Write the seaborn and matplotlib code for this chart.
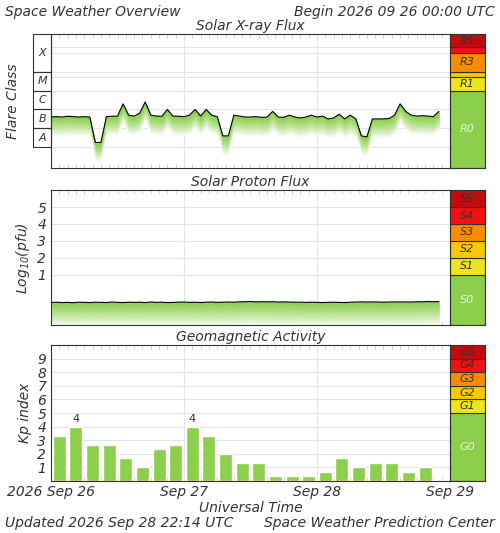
import numpy as np
import matplotlib
matplotlib.use("Agg")
import matplotlib.pyplot as plt
import matplotlib.transforms as mtransforms
import seaborn as sns
import pandas as pd

sns.set_style("white")
plt.rcParams['font.family'] = ['DejaVu Sans']
plt.rcParams['font.style'] = 'italic'
TXT = '#333333'

# hourly log10 X-ray flux (W/m2), hours 0..70 from 2026-09-26 00 UTC
xray_log = [-6.40, -6.38, -6.40, -6.36, -6.38, -6.40, -6.38, -6.40,
            -7.75, -7.75, -6.38, -6.36, -6.35, -5.70, -6.30, -6.35,
            -6.20, -5.60, -6.30, -6.35, -6.36, -6.00, -6.35, -6.36,
            -6.38, -6.30, -6.00, -6.35, -6.00, -6.30, -6.38, -7.40,
            -7.40, -6.30, -6.35, -6.40, -6.40, -6.38, -6.42, -6.40,
            -6.10, -6.40, -6.42, -6.30, -6.40, -6.45, -6.40, -6.30,
            -6.40, -6.35, -6.50, -6.45, -6.25, -6.50, -6.30, -6.50,
            -7.40, -7.45, -6.50, -6.50, -6.50, -6.48, -6.30, -5.70,
            -6.10, -6.30, -6.35, -6.33, -6.35, -6.38, -6.10]
# hourly log10 proton flux (pfu)
proton_log = [-0.66, -0.64, -0.66, -0.65, -0.67, -0.64, -0.65, -0.66,
              -0.64, -0.65, -0.66, -0.63, -0.65, -0.66, -0.64, -0.65,
              -0.64, -0.66, -0.63, -0.65, -0.64, -0.66, -0.65, -0.64,
              -0.63, -0.65, -0.64, -0.66, -0.64, -0.63, -0.65, -0.64,
              -0.63, -0.64, -0.62, -0.61, -0.60, -0.62, -0.61, -0.62,
              -0.61, -0.63, -0.62, -0.63, -0.64, -0.64, -0.65, -0.64,
              -0.65, -0.66, -0.65, -0.64, -0.65, -0.66, -0.64, -0.63,
              -0.62, -0.63, -0.62, -0.63, -0.64, -0.63, -0.62, -0.63,
              -0.62, -0.63, -0.61, -0.62, -0.60, -0.61, -0.60]
# 3-hourly Kp
kp = [3.33, 4.00, 2.67, 2.67, 1.67, 1.00, 2.33, 2.67,
      4.00, 3.33, 2.00, 1.33, 1.33, 0.33, 0.33, 0.33,
      0.67, 1.67, 1.00, 1.33, 1.33, 0.67, 1.00]

day_labels = ['2026 Sep 26', 'Sep 27', 'Sep 28', 'Sep 29']
r_levels = [('R0', -9.1, -5.0, '#8ccf4d'), ('R1', -5.0, np.log10(5e-5), '#eee321'),
            ('', np.log10(5e-5), -4.0, '#f8c800'), ('R3', -4.0, -3.0, '#fb8c00'),
            ('', -3.0, np.log10(2e-3), '#f80f0f'), ('R5', np.log10(2e-3), -2.0, '#c40a0a')]
s_levels = [('S0', -2.0, 1, '#8ccf4d'), ('S1', 1, 2, '#eee321'), ('S2', 2, 3, '#f8c800'),
            ('S3', 3, 4, '#fb8c00'), ('S4', 4, 5, '#f80f0f'), ('S5', 5, 6, '#c40a0a')]
g_levels = [('G0', 0, 5, '#8ccf4d'), ('G1', 5, 6, '#eee321'), ('G2', 6, 7, '#f8c800'),
            ('G3', 7, 8, '#fb8c00'), ('G4', 8, 9, '#f80f0f'), ('G5', 9, 10, '#c40a0a')]

GREEN = '#8ccf4d'
fig = plt.figure(figsize=(5, 5.33), dpi=100)
W = 0.798
panels = [(0.685, 0.251), (0.390, 0.253), (0.0976, 0.255)]
axes = [fig.add_axes([0.102, b, W, h]) for b, h in panels]
saxes = [fig.add_axes([0.9, b, 0.07, h]) for b, h in panels]


def style_axis(ax, ylim):
    ax.set_xlim(0, 72)
    ax.set_ylim(*ylim)
    for x in [24, 48]:
        ax.axvline(x, color='#e4e4e4', lw=0.8, zorder=0)
    ax.set_xticks([0, 24, 48, 72])
    ax.set_xticks(np.arange(0, 72, 1.5), minor=True)
    ax.tick_params(axis='x', which='minor', direction='in', length=3, color='#cccccc',
                   top=True, bottom=True)
    ax.tick_params(axis='x', which='major', length=0)
    for s in ax.spines.values():
        s.set_color('#333333')
        s.set_linewidth(0.8)


def fade_fill(ax, x, y, depth, n=30):
    # green fill fading to white under the curve, drawn as non-overlapping bands
    y = np.asarray(y)
    base = np.array(matplotlib.colors.to_rgb(GREEN))
    for k in range(n):
        f = (k / n) ** 1.3
        c = base * (1 - f) + np.ones(3) * f
        ax.fill_between(x, y - depth * k / n, y - depth * (k + 1) / n,
                        color=c, lw=0.3, ec=c, zorder=1)


def status_bar(sax, levels, ylim):
    sax.set_xlim(0, 1)
    sax.set_ylim(*ylim)
    for name, lo, hi, c in levels:
        sax.axhspan(lo, hi, color=c, ec='#333333', lw=0.8)
        if name:
            tc = '#e8f5dc' if name.endswith('0') else '#333333'
            sax.text(0.5, (lo + hi) / 2, name, ha='center', va='center', fontsize=8,
                     color=tc, style='italic')
    sax.set_xticks([])
    sax.set_yticks([])
    for s in sax.spines.values():
        s.set_color('#333333')


hours = np.arange(len(xray_log))
# X-ray panel
ax = axes[0]
style_axis(ax, (-9.1, -2.0))
for v in [-8, -7, -6, -5, -4, np.log10(5e-5), -3, np.log10(2e-3)]:
    ax.axhline(v, color='#e4e4e4', lw=0.8, zorder=0)
fade_fill(ax, hours, xray_log, 1.0)
df_x = pd.DataFrame({'h': hours, 'v': xray_log})
sns.lineplot(data=df_x, x='h', y='v', color='black', lw=0.8, ax=ax, zorder=3)
ax.set_xlabel('')
ax.set_xticklabels([])
ax.set_yticks([])
ax.set_title('Solar X-ray Flux', fontsize=10, color=TXT, pad=3)
ax.set_ylabel('Flare Class', fontsize=10, color=TXT, labelpad=22)
blend = mtransforms.blended_transform_factory(ax.transAxes, ax.transData)
for name, lo, hi in [('A', -8, -7), ('B', -7, -6), ('C', -6, -5), ('M', -5, -4), ('X', -4, -2)]:
    ax.add_patch(plt.Rectangle((-0.045, lo), 0.045, hi - lo, transform=blend, fill=False,
                               ec='#333333', lw=0.8, clip_on=False))
    ax.text(-0.0225, (lo + hi) / 2, name, transform=blend, ha='center', va='center',
            fontsize=8, color=TXT)
status_bar(saxes[0], r_levels, (-9.1, -2.0))

# Proton panel
ax = axes[1]
style_axis(ax, (-2.0, 6.0))
for v in [1, 2, 3, 4, 5]:
    ax.axhline(v, color='#e4e4e4', lw=0.8, zorder=0)
ph = np.arange(len(proton_log))
fade_fill(ax, ph, proton_log, 1.4)
sns.lineplot(x=ph, y=proton_log, color='black', lw=0.8, ax=ax, zorder=3)
ax.set_xticklabels([])
ax.set_yticks([1, 2, 3, 4, 5])
ax.tick_params(axis='y', length=0, labelsize=10, labelcolor=TXT)
ax.set_title('Solar Proton Flux', fontsize=10, color=TXT, pad=3)
ax.set_ylabel('Log$_{10}$(pfu)', fontsize=10, color=TXT)
status_bar(saxes[1], s_levels, (-2.0, 6.0))

# Kp panel
ax = axes[2]
style_axis(ax, (0, 10))
for v in range(1, 10):
    ax.axhline(v, color='#e4e4e4', lw=0.8, zorder=0)
df_k = pd.DataFrame({'t': np.arange(len(kp)) * 3 + 1.5, 'kp': kp})
sns.barplot(data=df_k, x='t', y='kp', native_scale=True, color=GREEN, saturation=1,
            width=0.78, ax=ax, zorder=2)
for t, v in zip(df_k['t'], df_k['kp']):
    if v >= 4:
        ax.text(t, v + 0.2, f'{v:.0f}', ha='center', va='bottom', fontsize=8, color=TXT,
                style='normal')
ax.set_xlim(0, 72)
ax.set_ylim(0, 10)
ax.set_yticks(range(1, 10))
ax.tick_params(axis='y', length=0, labelsize=10, labelcolor=TXT)
ax.set_xticklabels(day_labels, fontsize=10, color=TXT)
ax.tick_params(axis='x', which='major', pad=3)
ax.set_title('Geomagnetic Activity', fontsize=10, color=TXT, pad=3)
ax.set_ylabel('Kp index', fontsize=10, color=TXT)
ax.set_xlabel('Universal Time', fontsize=10, color=TXT, labelpad=1)
status_bar(saxes[2], g_levels, (0, 10))

fig.text(0.01, 0.978, 'Space Weather Overview', fontsize=10, color=TXT, va='center')
fig.text(0.99, 0.978, 'Begin 2026 09 26 00:00 UTC', fontsize=10, color=TXT, va='center', ha='right')
fig.text(0.01, 0.018, 'Updated 2026 Sep 28 22:14 UTC', fontsize=10, color=TXT, va='center')
fig.text(0.99, 0.018, 'Space Weather Prediction Center', fontsize=10, color=TXT, va='center', ha='right')

fig.savefig('out.png', dpi=100)
